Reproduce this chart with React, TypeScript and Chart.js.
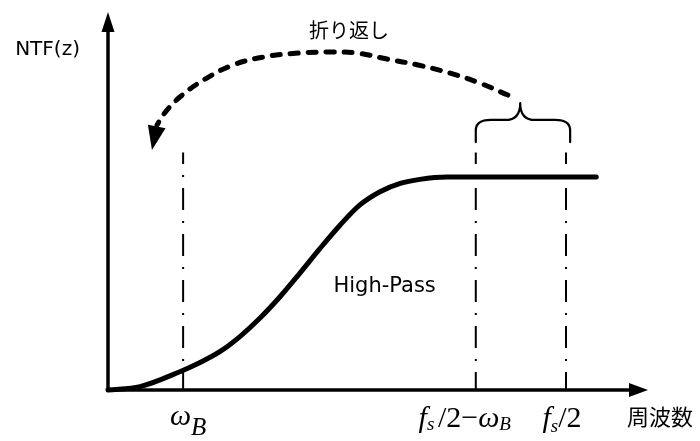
import { useEffect, useRef } from "react";
import { Chart, registerables } from "chart.js";

Chart.register(...registerables);

// Normalised axes: fs/2 = 1 on the frequency axis, pass-band NTF level = 1
const X_MAX = 1.179;
const Y_MAX = 1.775;

// High-pass NTF curve
const ntfFreq = [0, 0.07, 0.157, 0.201, 0.245, 0.288, 0.332, 0.376, 0.419, 0.463, 0.507, 0.55, 0.594, 0.638, 0.681, 0.74, 0.856, 1.066];
const ntfMag = [0, 0.016, 0.086, 0.129, 0.181, 0.251, 0.338, 0.439, 0.549, 0.665, 0.775, 0.869, 0.931, 0.97, 0.989, 1.0, 1.0, 1.0];

// Dash-dot marker lines: ωB, fs/2−ωB, fs/2
const markFreqs = [0.164, 0.803, 1.0];
const markTop = 1.115;
const freqTickLabels = ["ω_B", "f_s /2−ω_B", "f_s/2"];

// Folding ("折り返し") dashed arc, from the brace back to ωB
const foldFreq = [0.873, 0.812, 0.747, 0.677, 0.609, 0.544, 0.485, 0.415, 0.338, 0.273, 0.212, 0.157, 0.12, 0.107];
const foldLevel = [1.385, 1.441, 1.488, 1.526, 1.554, 1.582, 1.587, 1.582, 1.563, 1.526, 1.46, 1.376, 1.291, 1.244];
const foldTip = [0.096, 1.127];

// Curly brace over fs/2−ωB … fs/2
const braceFreqs = [0.803, 0.9, 1.009]; // left, centre, right
const braceLevels = [1.164, 1.268, 1.347]; // ends, shoulders, peak

// Plain text labels
const textLabels = ["NTF(z)", "折り返し", "High-Pass", "周波数"];

const SERIF = '"Liberation Serif", "Times New Roman", serif';
const CJK = '"Noto Sans CJK JP", "Noto Sans", sans-serif';
const LATIN = '"DejaVu Sans", "Noto Sans", sans-serif';

function drawMath(ctx: CanvasRenderingContext2D, label: string, cx: number, base: number, size: number, subSize: number, subDy: number) {
  const segs: { t: string; font: string; dy: number }[] = [];
  for (let i = 0; i < label.length; i++) {
    const c = label[i];
    if (c === "_") {
      const s = label[i + 1];
      segs.push({ t: s, font: `italic ${subSize}px ${SERIF}`, dy: subDy });
      i++;
      continue;
    }
    const italic = /[a-zA-Zω]/.test(c);
    segs.push({ t: c, font: `${italic ? "italic " : ""}${size}px ${SERIF}`, dy: 0 });
  }
  const widths = segs.map((s) => {
    ctx.font = s.font;
    return s.t === " " ? size * 0.12 : ctx.measureText(s.t).width;
  });
  const total = widths.reduce((a, b) => a + b, 0);
  let x = cx - total / 2;
  ctx.textAlign = "left";
  ctx.textBaseline = "alphabetic";
  segs.forEach((s, i) => {
    ctx.font = s.font;
    if (s.t !== " ") ctx.fillText(s.t, x, base + s.dy);
    x += widths[i];
  });
}

const diagramPlugin = {
  id: "diagram",
  beforeDatasetsDraw(chart: any) {
    const { ctx } = chart;
    const sx = chart.scales.x;
    const sy = chart.scales.y;
    const x0 = sx.getPixelForValue(0);
    const y0 = sy.getPixelForValue(0);
    const xe = sx.getPixelForValue(X_MAX);
    const ye = sy.getPixelForValue(Y_MAX);
    ctx.save();
    ctx.strokeStyle = "#000";
    ctx.fillStyle = "#000";
    ctx.lineWidth = 3.5;
    // vertical axis
    ctx.beginPath();
    ctx.moveTo(x0, y0 + 1.75);
    ctx.lineTo(x0, ye + 16);
    ctx.stroke();
    ctx.beginPath();
    ctx.moveTo(x0, ye);
    ctx.lineTo(x0 - 6.5, ye + 20);
    ctx.lineTo(x0 + 6.5, ye + 20);
    ctx.closePath();
    ctx.fill();
    // horizontal axis
    ctx.beginPath();
    ctx.moveTo(x0 - 1.75, y0);
    ctx.lineTo(xe - 16, y0);
    ctx.stroke();
    ctx.beginPath();
    ctx.moveTo(xe, y0);
    ctx.lineTo(xe - 19, y0 - 7);
    ctx.lineTo(xe - 19, y0 + 7);
    ctx.closePath();
    ctx.fill();
    ctx.restore();
  },
  afterDatasetsDraw(chart: any) {
    const { ctx } = chart;
    const sx = chart.scales.x;
    const sy = chart.scales.y;
    const px = (v: number) => sx.getPixelForValue(v);
    const py = (v: number) => sy.getPixelForValue(v);
    ctx.save();
    ctx.strokeStyle = "#000";
    ctx.fillStyle = "#000";

    // brace
    const L = px(braceFreqs[0]);
    const C = px(braceFreqs[1]);
    const R = px(braceFreqs[2]);
    const yEnd = py(braceLevels[0]);
    const yMid = py(braceLevels[1]);
    const yPk = py(braceLevels[2]);
    const r = 15;
    ctx.lineWidth = 2.2;
    ctx.lineCap = "round";
    ctx.lineJoin = "round";
    ctx.beginPath();
    ctx.moveTo(L, yEnd);
    ctx.lineTo(L, yMid + r * 0.7);
    ctx.quadraticCurveTo(L, yMid, L + r, yMid);
    ctx.lineTo(C - r, yMid);
    ctx.quadraticCurveTo(C, yMid, C, yPk);
    ctx.quadraticCurveTo(C, yMid, C + r, yMid);
    ctx.lineTo(R - r, yMid);
    ctx.quadraticCurveTo(R, yMid, R, yMid + r * 0.7);
    ctx.lineTo(R, yEnd);
    ctx.stroke();

    // arrowhead of the folding arc
    const tx = px(foldTip[0]);
    const ty = py(foldTip[1]);
    const lx = px(foldFreq[foldFreq.length - 1]);
    const ly = py(foldLevel[foldLevel.length - 1]);
    let dx = tx - lx;
    let dy = ty - ly;
    const len = Math.hypot(dx, dy);
    dx /= len;
    dy /= len;
    const h = 24;
    const w = 9;
    const bx = tx - dx * h;
    const by = ty - dy * h;
    ctx.beginPath();
    ctx.moveTo(tx, ty);
    ctx.lineTo(bx - dy * w, by + dx * w);
    ctx.lineTo(bx + dy * w, by - dx * w);
    ctx.closePath();
    ctx.fill();

    // plain text
    const anchors = [
      [-0.132, 1.596],
      [0.526, 1.69],
      [0.604, 0.484],
      [1.205, -0.127],
    ];
    const fonts = [`20px ${LATIN}`, `20px ${CJK}`, `21px ${LATIN}`, `22px ${CJK}`];
    textLabels.forEach((t, i) => {
      ctx.font = fonts[i];
      ctx.textAlign = "center";
      ctx.textBaseline = "middle";
      ctx.fillText(t, px(anchors[i][0]), py(anchors[i][1]));
    });

    // frequency tick labels
    const offs = [5, -11, -4];
    const bases = [425, 427, 427];
    const subSizes = [25, 19, 19];
    const subDys = [10, 3, 5];
    const base0 = py(0);
    freqTickLabels.forEach((lab, i) => {
      drawMath(ctx, lab, px(markFreqs[i]) + offs[i], base0 + (bases[i] - 390), 30, subSizes[i], subDys[i]);
    });
    ctx.restore();
  },
};

export default function App() {
  const ref = useRef<HTMLCanvasElement>(null);
  useEffect(() => {
    document.body.style.margin = "0";
    const markSets = markFreqs.map((f) => ({
      type: "line" as const,
      data: [
        { x: f, y: 0 },
        { x: f, y: markTop },
      ],
      borderColor: "#000",
      borderWidth: 2,
      borderDash: [22, 11, 2, 11],
      borderDashOffset: 4,
      pointRadius: 0,
      clip: false as any,
      order: 3,
    }));
    const chart = new Chart(ref.current!, {
      type: "line",
      data: {
        datasets: [
          {
            data: ntfFreq.map((f, i) => ({ x: f, y: ntfMag[i] })),
            borderColor: "#000",
            borderWidth: 5,
            borderCapStyle: "round",
            cubicInterpolationMode: "monotone",
            pointRadius: 0,
            clip: false as any,
            order: 1,
          },
          {
            data: foldFreq.map((f, i) => ({ x: f, y: foldLevel[i] })),
            borderColor: "#000",
            borderWidth: 5,
            borderCapStyle: "round",
            borderDash: [8, 10],
            tension: 0.4,
            pointRadius: 0,
            clip: false as any,
            order: 2,
          },
          ...markSets,
        ] as any,
      },
      options: {
        responsive: false,
        animation: false,
        layout: { padding: { left: 108, right: 52, top: 12, bottom: 51 } },
        scales: {
          x: { type: "linear", display: false, min: 0, max: X_MAX },
          y: { type: "linear", display: false, min: 0, max: Y_MAX },
        },
        plugins: { legend: { display: false }, tooltip: { enabled: false } },
        events: [],
      },
      plugins: [diagramPlugin],
    });
    return () => chart.destroy();
  }, []);
  return (
    <div style={{ position: "absolute", left: 0, top: 0, width: 700, height: 441, background: "#fff" }}>
      <canvas ref={ref} width={700} height={441} style={{ display: "block" }} />
    </div>
  );
}
